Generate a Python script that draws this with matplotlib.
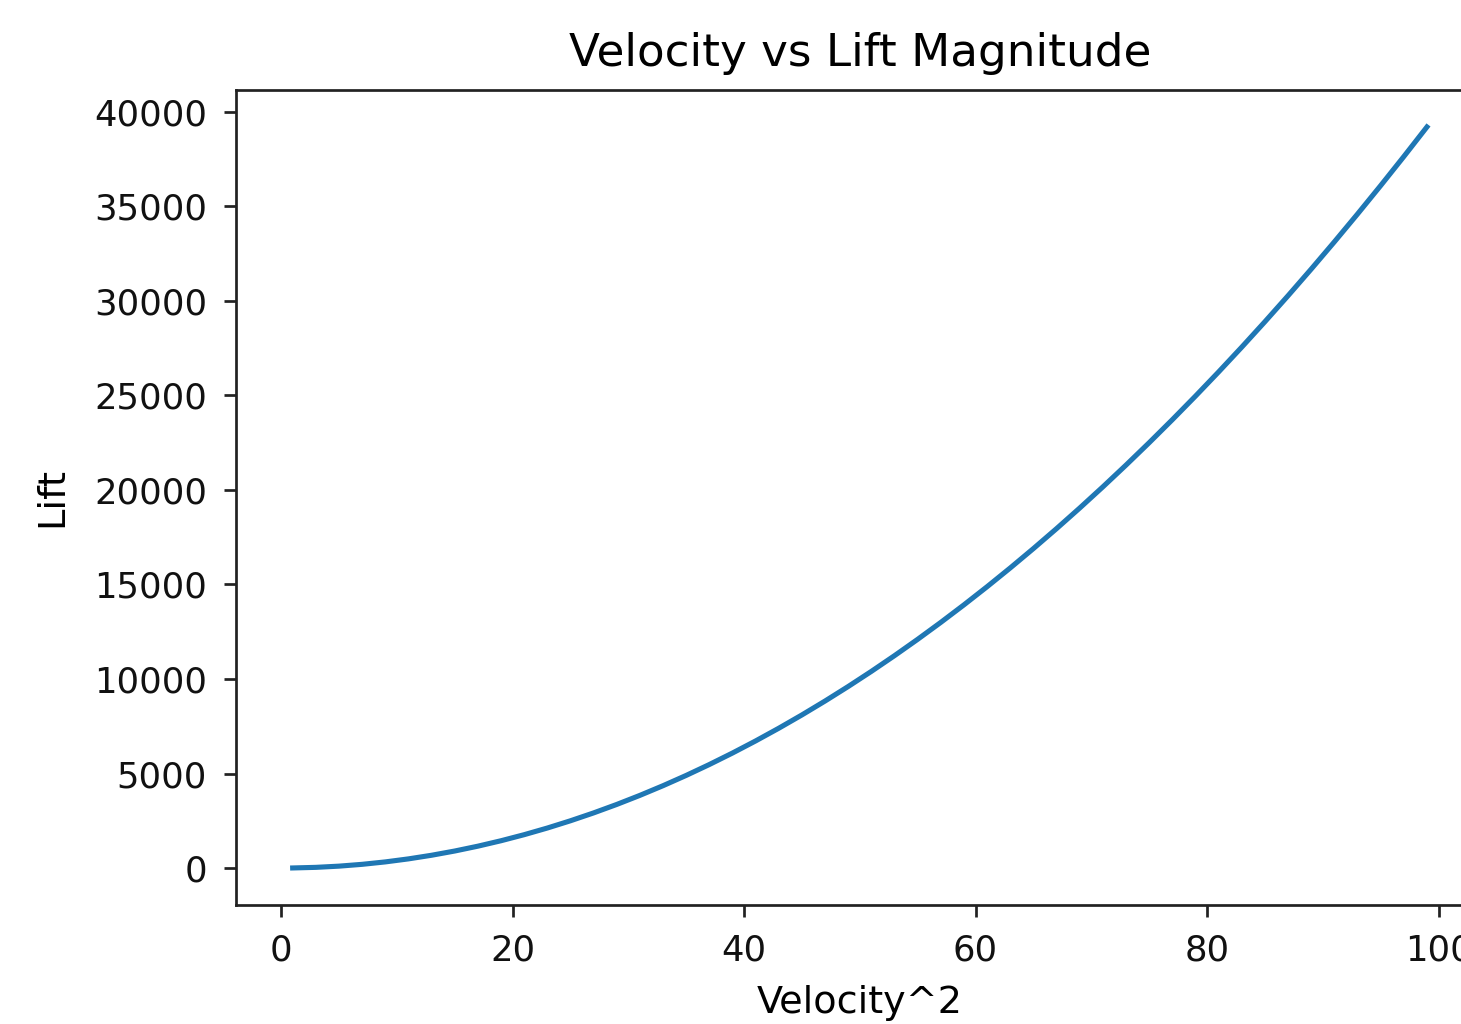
import matplotlib
matplotlib.use("Agg")
import matplotlib.pyplot as plt

velocity_sq = [1, 3, 5, 7, 9, 11, 13, 15, 17, 19, 21, 23, 25, 27, 29, 31, 33, 35, 37, 39,
               41, 43, 45, 47, 49, 51, 53, 55, 57, 59, 61, 63, 65, 67, 69, 71, 73, 75, 77, 79,
               81, 83, 85, 87, 89, 91, 93, 95, 97, 99]
lift = [4, 36, 100, 196, 324, 484, 676, 900, 1156, 1444, 1764, 2116, 2500, 2916, 3364,
        3844, 4356, 4900, 5476, 6084, 6724, 7396, 8100, 8836, 9604, 10404, 11236, 12100,
        12996, 13924, 14884, 15876, 16900, 17956, 19044, 20164, 21316, 22500, 23716, 24964,
        26244, 27556, 28900, 30276, 31684, 33124, 34596, 36100, 37636, 39204]

DPI = 245
fig = plt.figure(figsize=(1461 / DPI, 1024 / DPI), dpi=DPI)
ax = fig.add_axes([0.1615, 0.1162, 0.854, 0.796])
ax.plot(velocity_sq, lift, color="#1f77b4", linewidth=1.5)
ax.set_title("Velocity vs Lift Magnitude", fontsize=13.3, pad=7)
ax.set_xlabel("Velocity^2", fontsize=11.2, labelpad=5)
ax.set_ylabel("Lift", fontsize=11.3, labelpad=7)
ax.set_xticks([0, 20, 40, 60, 80, 100])
ax.set_yticks([0, 5000, 10000, 15000, 20000, 25000, 30000, 35000, 40000])
ax.tick_params(labelsize=10.4, pad=5, colors="#222222", labelcolor="#111111")
for s in ax.spines.values():
    s.set_color("#222222")
fig.savefig("out.png", dpi=DPI)
